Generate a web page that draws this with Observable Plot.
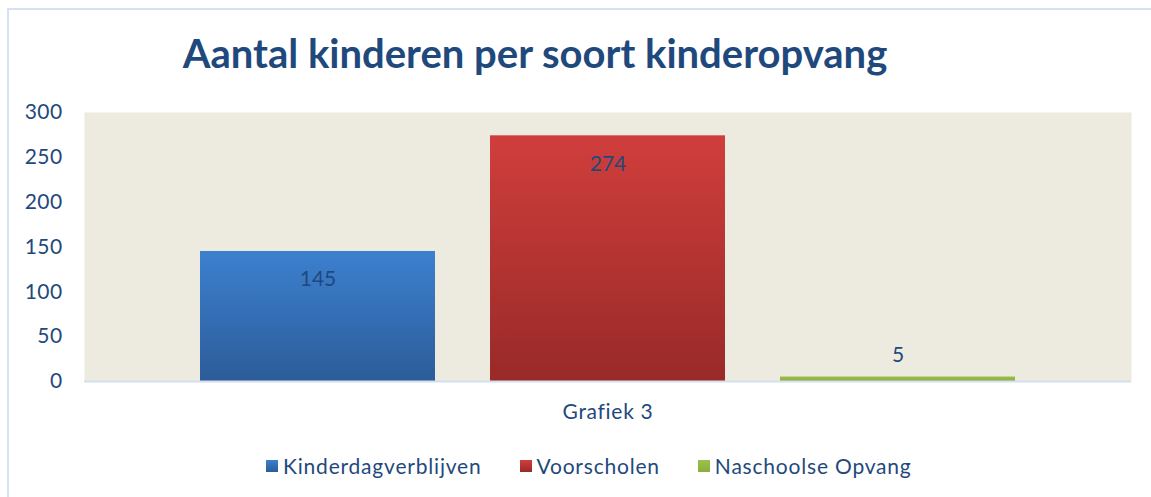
<!DOCTYPE html>
<html>
<head>
<meta charset="utf-8">
<script src="https://cdn.jsdelivr.net/npm/d3@7"></script>
<script src="https://cdn.jsdelivr.net/npm/@observablehq/plot@0.6"></script>
<style>
  html, body { margin: 0; padding: 0; background: #fff; }
  #wrap { position: relative; width: 1151px; height: 497px; overflow: hidden; background: #fff; font-family: Lato, "Open Sans", sans-serif; }
  .bl { position: absolute; left: 7px; top: 8px; width: 2px; bottom: 0; background: #D4E1F3; }
  .bt { position: absolute; left: 7px; top: 8px; height: 2px; right: 0; background: #D4E1F3; }
  #title { position: absolute; top: 28px; left: 0; width: 1070px; text-align: center; font-weight: bold; font-size: 40px; line-height: 50px; color: #1F497D; }
  #chart { position: absolute; top: 97px; left: 0; }
  #legend { position: absolute; top: 452px; left: 266px; display: flex; gap: 38px; font-size: 21px; letter-spacing: 0.8px; line-height: 28px; color: #1F497D; }
  #legend .item { display: flex; align-items: center; gap: 5px; }
  #legend .sw { width: 12px; height: 12px; }
</style>
</head>
<body>
<div id="wrap">
  <div class="bl"></div><div class="bt"></div>
  <div id="title">Aantal kinderen per soort kinderopvang</div>
  <div id="chart"></div>
  <div id="legend"></div>
</div>
<script>
const categories = ["Kinderdagverblijven", "Voorscholen", "Naschoolse Opvang"];
const values = [145, 274, 5];
const groupLabel = "Grafiek 3";
const yTicks = [0, 50, 100, 150, 200, 250, 300];
const titleText = "Aantal kinderen per soort kinderopvang";

const topColors = ["#3C80CF", "#D03E3C", "#9DC04A"];
const bottomColors = ["#2C5C99", "#982A28", "#8AAE3E"];
const gradIds = ["gBlue", "gRed", "gGreen"];

const data = categories.map((c, i) => ({ cat: c, value: values[i], group: groupLabel, fill: `url(#${gradIds[i]})` }));

document.getElementById("title").textContent = titleText;

const defsMark = () => {
  const defs = d3.create("svg:defs");
  gradIds.forEach((id, i) => {
    const g = defs.append("linearGradient").attr("id", id).attr("x1", 0).attr("y1", 0).attr("x2", 0).attr("y2", 1);
    g.append("stop").attr("offset", "0%").attr("stop-color", topColors[i]);
    g.append("stop").attr("offset", "100%").attr("stop-color", bottomColors[i]);
  });
  const f = defs.append("filter").attr("id", "shadow").attr("x", "-10%").attr("y", "-10%").attr("width", "120%").attr("height", "130%");
  f.append("feDropShadow").attr("dx", 1).attr("dy", 2).attr("stdDeviation", 2).attr("flood-color", "#000").attr("flood-opacity", 0.25);
  return defs.node();
};

const chart = Plot.plot({
  width: 1151,
  height: 340,
  marginTop: 15,
  marginBottom: 56,
  marginLeft: 84,
  marginRight: 20,
  style: { fontFamily: "Lato, 'Open Sans', sans-serif", background: "transparent", overflow: "visible" },
  fx: { domain: [groupLabel], padding: 0, axis: "bottom", tickSize: 0, tickPadding: 23, label: null, fontSize: 21 },
  x: { domain: categories, paddingInner: 0.19, paddingOuter: 0.4, axis: null },
  y: { domain: [0, 300], ticks: yTicks, tickSize: 0, tickPadding: 22, label: null, fontSize: 21 },
  color: { type: "identity" },
  marks: [
    defsMark,
    Plot.frame({ fill: "#EDEADF", stroke: null }),
    Plot.barY(data, { fx: "group", x: "cat", y: "value", fill: "fill", filter: d => d.value > 0, style: { filter: "url(#shadow)" } }),
    Plot.ruleY([0], { stroke: "#D3DFEF", strokeWidth: 2 }),
    Plot.text(data.filter(d => d.value >= 50), { fx: "group", x: "cat", y: "value", text: d => String(d.value), dy: 28, fill: "#1F497D", fontSize: 21 }),
    Plot.text(data.filter(d => d.value < 50), { fx: "group", x: "cat", y: "value", text: d => String(d.value), dy: -22, fill: "#1F497D", fontSize: 21 })
  ]
});
d3.select(chart).selectAll("[aria-label='y-axis tick label'], [aria-label='fx-axis tick label']").attr("fill", "#1F497D").style("font-size", "21px");
d3.select(chart).selectAll("[aria-label='fx-axis tick label']").style("letter-spacing", "0.7px");
d3.select(chart).selectAll("[aria-label='y-axis tick label']").style("letter-spacing", "0.4px");
document.getElementById("chart").appendChild(chart);

const legend = d3.select("#legend");
categories.forEach((c, i) => {
  const it = legend.append("div").attr("class", "item");
  it.append("div").attr("class", "sw").style("background", `linear-gradient(${topColors[i]}, ${bottomColors[i]})`);
  it.append("span").text(c);
});
</script>
</body>
</html>
